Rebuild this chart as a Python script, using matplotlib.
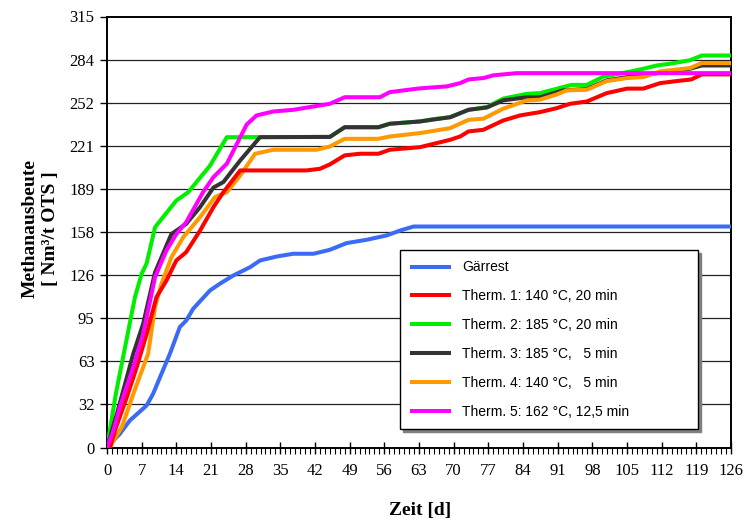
import matplotlib
matplotlib.use("Agg")
import matplotlib.pyplot as plt
from matplotlib.ticker import FixedLocator, MultipleLocator

# ---------------- data ----------------
x_ticks = [0, 7, 14, 21, 28, 35, 42, 49, 56, 63, 70, 77, 84, 91, 98, 105, 112, 119, 126]
y_ticks = [0, 31.5, 63, 94.5, 126, 157.5, 189, 220.5, 252, 283.5, 315]
y_tick_labels = ["0", "32", "63", "95", "126", "158", "189", "221", "252", "284", "315"]

gaer_x = [0, 2.6, 4.6, 8, 9.3, 12.7, 14.7, 16, 17.4, 20.8, 22.8, 25.5, 28.9, 30.9, 34.3, 37.6,
          41.7, 45, 48.4, 52.4, 56.5, 59.2, 61.9, 126]
gaer_y = [0, 10, 19.7, 30.7, 39.2, 68.5, 88, 92.8, 101.4, 114.8, 119.7, 125.7, 131.8, 136.7, 139.6,
          141.6, 141.6, 144.5, 149.4, 151.8, 155, 158.6, 161.5, 161.5]

t1_x = [0, 0.6, 1.6, 4, 6, 8, 10, 12, 14, 16, 18.8, 21.5, 23.5, 26.9, 40.3, 43, 45, 48, 51.1, 54.8,
        57.1, 63.2, 69.3, 71.3, 73, 76, 80, 83.4, 87.4, 90.8, 93.5, 96.9, 100.9, 105, 108.3, 111.7,
        115, 118, 120.1, 126]
t1_y = [0, 0, 12.4, 36.8, 58.7, 83, 110, 122, 136.7, 142.8, 158.6, 175.7, 186.6, 202.5, 202.5,
        203.7, 206.9, 213.5, 214.7, 214.7, 217.6, 219.5, 224.9, 227.3, 231, 232.2, 239, 242.7,
        245.1, 248, 251.2, 252.9, 259, 262.3, 262.3, 266.3, 267.8, 269, 272.7, 272.7]

t2_x = [0, 1.8, 5.65, 7, 8, 9.7, 14, 16.4, 20.8, 24.2, 45, 48, 54.8, 57, 63.2, 65.9, 69.3, 73, 76.7,
        80, 84.8, 87.4, 92.1, 93.8, 96.9, 100.2, 105, 108.3, 111, 113.7, 117.7, 120.1, 126]
t2_y = [0, 39.5, 110, 127, 134.5, 161, 180.5, 186.6, 206, 226.8, 227, 234, 234, 236.6, 238.3, 240,
        241.4, 246.8, 248.8, 255, 258.5, 259, 263.4, 265, 265, 271, 274.3, 276.8, 279.2, 280.5,
        283, 286.5, 286.5]

t3_x = [0, 0.6, 2, 5.3, 7.3, 9.7, 13, 16, 18.8, 21.5, 23.5, 26.9, 30.9, 45, 48, 54.8, 57.1, 63.2,
        69.3, 73, 76.7, 80, 84.8, 87.4, 92.1, 96.9, 100.9, 105, 108.3, 111.7, 117.7, 120.1, 126]
t3_y = [0, 7.5, 24.6, 68.5, 90.4, 128, 156, 163.5, 175.7, 190, 194, 209.8, 226.8, 227, 234.1, 234.1,
        236.6, 238.3, 241.4, 246.8, 248.5, 253.7, 256, 256, 261, 262, 268.3, 270.7, 272, 274,
        276.8, 279.2, 279.2]

t4_x = [0, 0.6, 1.3, 3, 5.3, 7.3, 8.3, 9.7, 11, 13, 15.4, 18.8, 21.8, 24.2, 26.9, 29.9, 33.6, 42.3,
        45, 48, 54.8, 57.1, 63.2, 69.3, 73, 76, 80, 84.8, 87.4, 90.8, 92.8, 96.9, 100.9, 105, 108.3,
        111.7, 117.7, 120.1, 126]
t4_y = [0, 0, 5, 15, 39, 58.7, 68.5, 102.6, 119.7, 139, 153.7, 168.4, 183, 186.6, 198.8, 214.7,
        217.6, 217.6, 220, 225.6, 225.6, 227.3, 229.8, 233.4, 239.5, 240.3, 247.6, 253.7, 254.2,
        258, 261, 261.5, 267.8, 270, 270.7, 274.9, 277.3, 281, 281]

t5_x = [0, 1.3, 2.6, 5.3, 7.3, 9.7, 12, 14, 16, 19.4, 21.5, 24.2, 28.2, 30.2, 33.6, 37.6, 43, 45,
        48, 55.1, 57.1, 62.5, 63.9, 68.6, 71.3, 73, 76, 78, 82.7, 126]
t5_y = [0, 12.4, 29.5, 58.7, 83, 124.5, 144, 156, 164.7, 186.6, 197.6, 207.4, 236, 242.7, 245.6,
        246.8, 250, 251.2, 256, 256, 259.7, 262.2, 262.7, 263.9, 266.3, 269, 270, 272, 273.6, 273.6]

series_labels = ["Gärrest",
                 "Therm. 1: 140 °C, 20 min",
                 "Therm. 2: 185 °C, 20 min",
                 "Therm. 3: 185 °C,   5 min",
                 "Therm. 4: 140 °C,   5 min",
                 "Therm. 5: 162 °C, 12,5 min"]
series_colors = ["#3A6BF5", "#FF0000", "#00EE00", "#333333", "#FF9900", "#FF00FF"]

# ---------------- plot ----------------
W, H = 745, 521
fig = plt.figure(figsize=(W / 100, H / 100), dpi=100)
L, R, T, B = 107, 731, 16.5, 447.5
ax = fig.add_axes([L / W, 1 - B / H, (R - L) / W, (B - T) / H])

serif = ["Liberation Serif", "DejaVu Serif"]
sans = ["Liberation Sans", "DejaVu Sans"]

data = [(gaer_x, gaer_y), (t1_x, t1_y), (t2_x, t2_y), (t3_x, t3_y), (t4_x, t4_y), (t5_x, t5_y)]
draw_order = [0, 2, 3, 4, 1, 5]
lines = {}
for z, i in enumerate(draw_order):
    xs, ys = data[i]
    ln, = ax.plot(xs, ys, color=series_colors[i], lw=2.9, solid_joinstyle="round",
                  solid_capstyle="butt", label=series_labels[i], zorder=3 + z * 0.01)
    lines[i] = ln

ax.set_xlim(0, 126)
ax.set_ylim(0, 315)

ax.xaxis.set_major_locator(FixedLocator(x_ticks))
ax.xaxis.set_minor_locator(MultipleLocator(1))
ax.yaxis.set_major_locator(FixedLocator(y_ticks))
ax.set_yticklabels(y_tick_labels)
ax.set_xticklabels([str(v) for v in x_ticks])

for yv in y_ticks[1:-1]:
    ax.axhline(yv, color="#222222", lw=0.9, zorder=1)

for lab in ax.get_xticklabels() + ax.get_yticklabels():
    lab.set_fontfamily(serif)
    lab.set_fontsize(12)

ax.tick_params(axis="x", which="major", direction="inout", length=9, width=1.0, pad=7)
ax.tick_params(axis="x", which="minor", direction="out", length=4, width=0.8)
ax.tick_params(axis="y", which="major", direction="out", length=5, width=1.0, pad=4)

for s in ax.spines.values():
    s.set_linewidth(1.4)
    s.set_color("black")

fig.text(420 / W, 1 - 510 / H, "Zeit [d]", fontfamily=serif, fontweight="bold",
         fontsize=14, ha="center", va="center")
fig.text(40 / W, 1 - 229 / H, "Methanausbeute\n[ Nm³/t OTS ]", fontfamily=serif,
         fontweight="bold", fontsize=14, rotation=90, ha="center", va="center",
         multialignment="center", linespacing=1.25)

handles = [lines[i] for i in range(6)]
lx0 = (400 - L) / (R - L)
lx1 = (698 - L) / (R - L)
ly0 = (B - 432) / (B - T)
ly1 = (B - 250) / (B - T)
leg = ax.legend(handles, series_labels, loc="upper left",
                bbox_to_anchor=(lx0, ly0, lx1 - lx0, ly1 - ly0), mode="expand",
                prop={"family": sans, "size": 10}, frameon=True, fancybox=False,
                shadow={"color": "#7f7f7f", "alpha": 1}, framealpha=1,
                borderpad=0.75, labelspacing=1.07, handlelength=2.9,
                handletextpad=0.85, borderaxespad=0)
leg.get_frame().set_edgecolor("black")
leg.get_frame().set_linewidth(1.0)
leg.set_zorder(5)

fig.savefig("out.png", dpi=100)
